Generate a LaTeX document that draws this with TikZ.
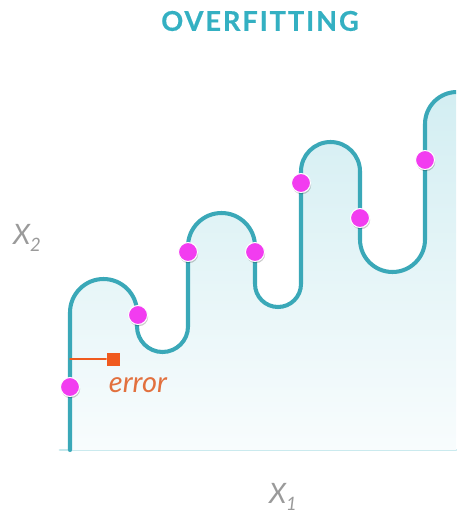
\documentclass[tikz,border=0pt]{standalone}
\usepackage{fontspec}
\setmainfont{Lato}
\usetikzlibrary{shadows}
\definecolor{curveteal}{HTML}{3AA8B8}
\definecolor{titleteal}{HTML}{34B0C2}
\definecolor{dotpink}{HTML}{F23CF0}
\definecolor{errorange}{HTML}{F05A1E}
\definecolor{errtext}{HTML}{E2703E}
\definecolor{axiscyan}{HTML}{C4E8EC}
\definecolor{filltop}{HTML}{D3EEF2}
\definecolor{fillbot}{HTML}{F8FCFD}
\definecolor{labelgray}{HTML}{9A9A9A}
\begin{document}
\begin{tikzpicture}[x=0.02cm,y=-0.02cm,line cap=round,line join=round,
  datapt/.style={circle,fill=dotpink,draw=white,line width=0.6pt,minimum size=0.38cm,inner sep=0pt,
    drop shadow={shadow xshift=0.4pt,shadow yshift=-1pt,opacity=0.2,fill=black}},
  axislabel/.style={text=labelgray,font=\fontsize{16}{19}\selectfont\itshape}]
  \useasboundingbox (0,0) rectangle (456,516);
  \coordinate (base) at (70,450);
  \coordinate (axend) at (456,450);
  \coordinate (axstart) at (60,450);
  % axis
  \draw[axiscyan, line width=1.7pt] (axstart) -- (axend);
  \begin{scope}
    \clip (0,0) rectangle (456,516);
    % area under the curve
    \shade[top color=filltop, bottom color=fillbot]
      (base) -- (70,312.5) arc[start angle=180, end angle=360, radius=33.5]
      -- (137,326.5) arc[start angle=180, end angle=0, radius=25.5]
      -- (188,246.5) arc[start angle=180, end angle=360, radius=33.5]
      -- (255,284) arc[start angle=180, end angle=0, radius=23]
      -- (301,171.5) arc[start angle=180, end angle=360, radius=29.5]
      -- (360,239.5) arc[start angle=180, end angle=0, radius=32.5]
      -- (425,124) arc[start angle=180, end angle=360, radius=32]
      -- (489,450) -- cycle;
    % fitted curve
    \draw[curveteal, line width=2.3pt]
      (base) -- (70,312.5) arc[start angle=180, end angle=360, radius=33.5]
      -- (137,326.5) arc[start angle=180, end angle=0, radius=25.5]
      -- (188,246.5) arc[start angle=180, end angle=360, radius=33.5]
      -- (255,284) arc[start angle=180, end angle=0, radius=23]
      -- (301,171.5) arc[start angle=180, end angle=360, radius=29.5]
      -- (360,239.5) arc[start angle=180, end angle=0, radius=32.5]
      -- (425,124) arc[start angle=180, end angle=360, radius=32]
      -- (489,450);
  \end{scope}
  % error marker
  \coordinate (errfoot) at (70,359);
  \node[fill=errorange, minimum size=0.26cm, inner sep=0pt] (errsq) at (113,359) {};
  \draw[errorange, line width=0.8pt] (errfoot) -- (errsq.west);
  \node[text=errtext, font=\fontsize{16.5}{20}\selectfont\itshape] (errlbl) at (138,385) {error};
  % data points
  \node[datapt] (d1) at (70,387) {};
  \node[datapt] (d2) at (138,315) {};
  \node[datapt] (d3) at (188,252) {};
  \node[datapt] (d4) at (255,252) {};
  \node[datapt] (d5) at (301,183) {};
  \node[datapt] (d6) at (360,218) {};
  \node[datapt] (d7) at (425,160) {};
  % labels
  \node[text=titleteal, font=\fontsize{15.5}{18}\selectfont\bfseries] (title) at (260,21) {\addfontfeatures{LetterSpace=7,FakeBold=0.6}OVERFITTING};
  \node[axislabel] (xtwo) at (27,238) {X\raisebox{-0.5ex}{\fontsize{10.5}{12}\selectfont 2}};
  \node[axislabel] (xone) at (283,497) {X\raisebox{-0.5ex}{\fontsize{10.5}{12}\selectfont 1}};
\end{tikzpicture}
\end{document}
